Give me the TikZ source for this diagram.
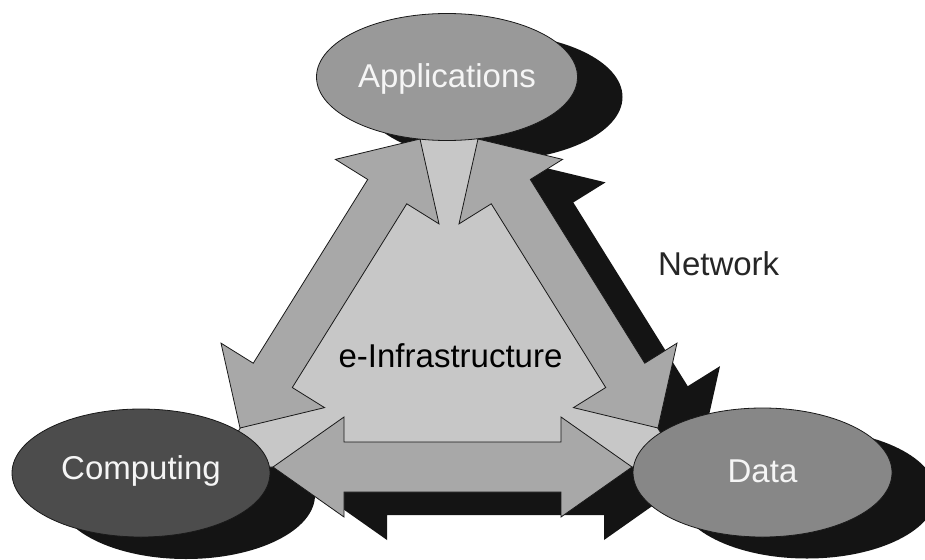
\documentclass[tikz,border=0pt]{standalone}
\usepackage{fontspec}
\setmainfont{Liberation Sans}
\usetikzlibrary{shapes.geometric,calc}

\definecolor{trifill}{gray}{0.78}
\definecolor{arrowfill}{gray}{0.66}
\definecolor{appfill}{gray}{0.60}
\definecolor{datafill}{gray}{0.53}
\definecolor{compfill}{gray}{0.30}
\definecolor{shadowfill}{gray}{0.08}
\definecolor{outline}{gray}{0.10}
\definecolor{hubtext}{gray}{0.96}

\newcommand{\headbases}[3]{%
  \coordinate (#1h) at ($(#1)!#3!(#2)$);
  \coordinate (#2h) at ($(#2)!#3!(#1)$);}
% #1 tip A, #2 tip B, #3 head half width, #4 shaft half width, #5 style
\newcommand{\dblarrow}[5]{%
  \path[#5] (#1) -- ($(#1h)!#3!90:(#2)$) -- ($(#1h)!#4!90:(#2)$)
    -- ($(#2h)!#4!-90:(#1)$) -- ($(#2h)!#3!-90:(#1)$) -- (#2)
    -- ($(#2h)!#3!90:(#1)$) -- ($(#2h)!#4!90:(#1)$)
    -- ($(#1h)!#4!-90:(#2)$) -- ($(#1h)!#3!-90:(#2)$) -- cycle;}

\tikzset{
  arrowbody/.style={fill=arrowfill, draw=outline, line width=0.8pt, line join=miter, miter limit=20},
  arrowshadow/.style={fill=shadowfill},
  hub/.style={ellipse, inner sep=0pt, draw=outline, line width=0.8pt, text=hubtext,
    font=\fontsize{33}{40}\selectfont, text height=23pt},
  hubshadow/.style={ellipse, inner sep=0pt, fill=shadowfill},
  core/.style={fill=trifill, draw=outline, line width=0.8pt},
  plainlabel/.style={font=\fontsize{33}{40}\selectfont, inner sep=0pt},
}

\begin{document}
\begin{tikzpicture}[x=1pt,y=-1pt]
\useasboundingbox (0,0) rectangle (925,559);

% ellipse shadows
\node[hubshadow, minimum width=261pt, minimum height=127pt] (appsh) at (492,97) {};
\node[hubshadow, minimum width=258pt, minimum height=128pt] (compsh) at (186,495) {};
\node[hubshadow, minimum width=259pt, minimum height=129pt] (datash) at (807,494) {};

% arrow tips
\coordinate (LA) at (240,428); \coordinate (LB) at (420,139);
\coordinate (RA) at (478,139); \coordinate (RB) at (658,428);
\coordinate (BA) at (273,467); \coordinate (BB) at (632,467);
\coordinate (RAs) at (521,162); \coordinate (RBs) at (701,451);
\coordinate (BAs) at (316,490); \coordinate (BBs) at (675,490);

\headbases{LA}{LB}{62pt}
\headbases{RA}{RB}{62pt}
\headbases{BA}{BB}{71pt}
\headbases{RAs}{RBs}{62pt}
\headbases{BAs}{BBs}{71pt}

% arrow shadows
\dblarrow{RAs}{RBs}{61pt}{23pt}{arrowshadow}
\dblarrow{BAs}{BBs}{50pt}{25pt}{arrowshadow}

% central triangle
\coordinate (T1) at (449,93);
\coordinate (T2) at (216,467);
\coordinate (T3) at (682,467);
\path[core] (T1) -- (T2) -- (T3) -- cycle;

% block arrows
\dblarrow{LA}{LB}{61pt}{23pt}{arrowbody}
\dblarrow{RA}{RB}{61pt}{23pt}{arrowbody}
\dblarrow{BA}{BB}{50pt}{25pt}{arrowbody}

% ellipses
\node[hub, fill=appfill, minimum width=261pt, minimum height=127pt, text depth=1pt] (app) at (447,77) {Applications};
\node[hub, fill=compfill, minimum width=258pt, minimum height=128pt, text depth=11pt] (comp) at (141,473) {Computing};
\node[hub, fill=datafill, minimum width=259pt, minimum height=129pt, text depth=4pt] (data) at (762.5,472.5) {Data};

% labels
\node[plainlabel, anchor=base, text=black] (infra) at (450.5,367) {e-Infrastructure};
\node[plainlabel, anchor=base west, text=black!85] (net) at (658,275) {Network};
\end{tikzpicture}
\end{document}
